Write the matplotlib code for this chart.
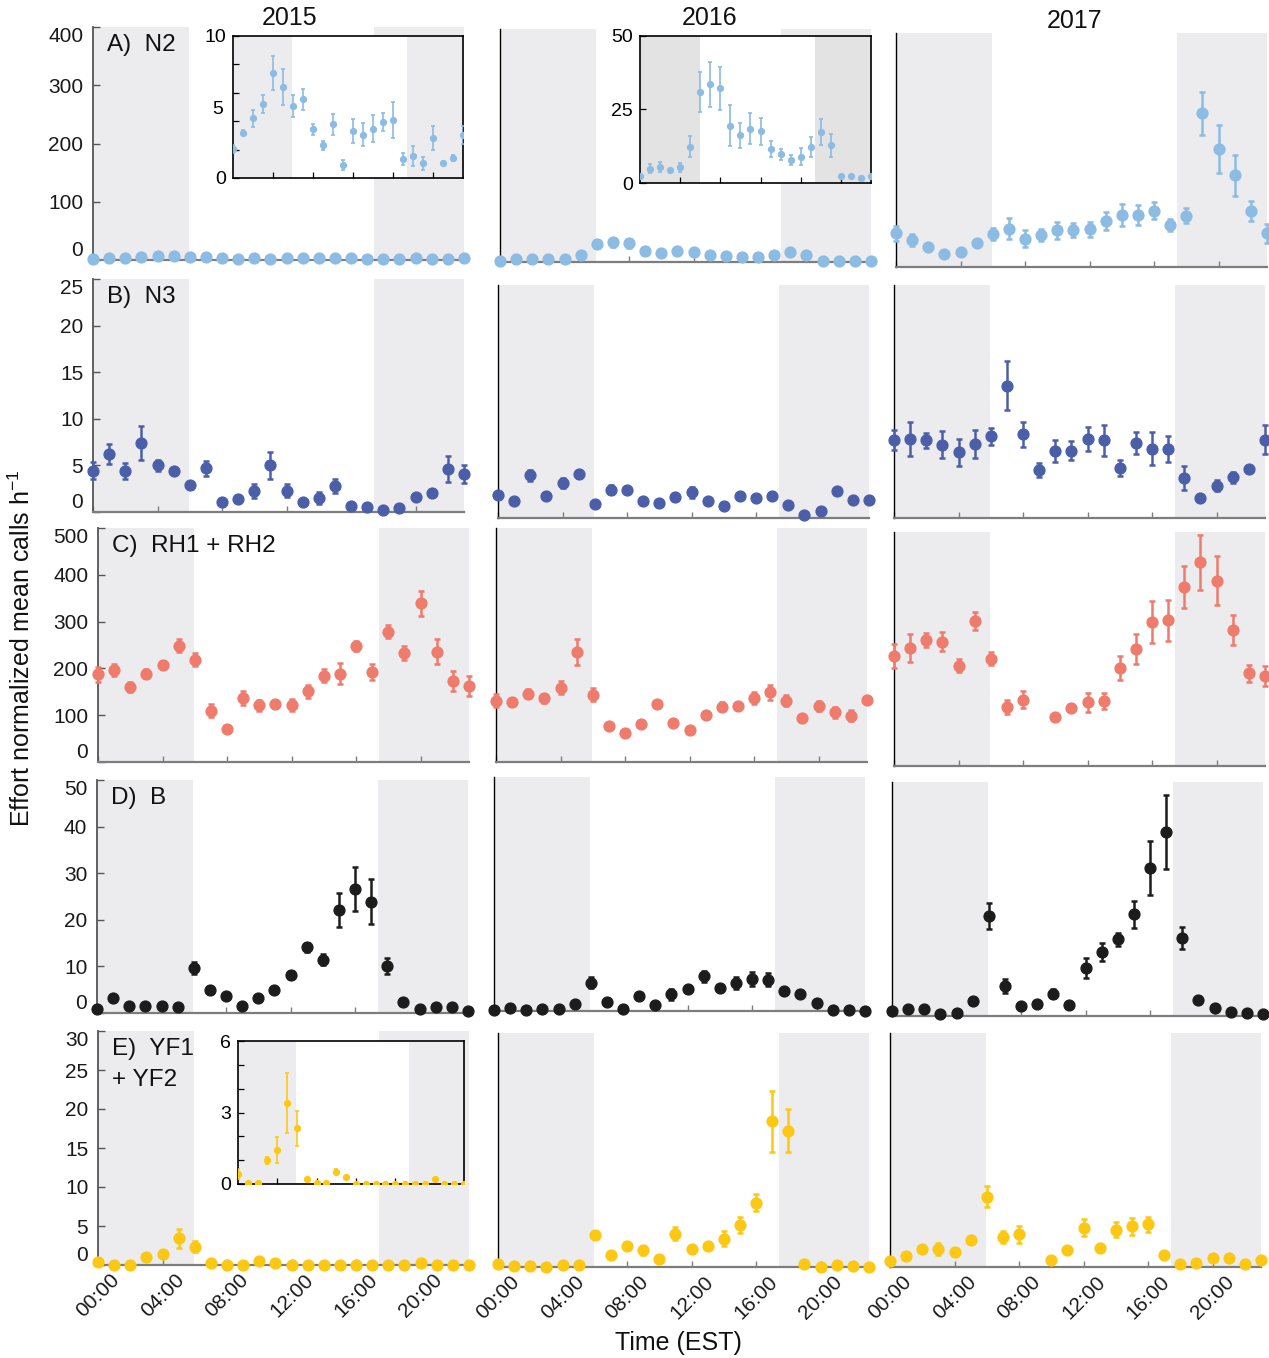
import numpy as np
import matplotlib
matplotlib.use('Agg')
import matplotlib.pyplot as plt

plt.rcParams['font.family'] = ['Liberation Sans', 'DejaVu Sans']
plt.rcParams['mathtext.fontset'] = 'custom'
plt.rcParams['mathtext.rm'] = 'Liberation Sans'
plt.rcParams['mathtext.it'] = 'Liberation Sans:italic'
plt.rcParams['mathtext.bf'] = 'Liberation Sans:bold'

# ---------------- data ----------------
hours = np.arange(24)
years = ['2015', '2016', '2017']
tick_hours = [0, 4, 8, 12, 16, 20]
tick_labels = ['00:00', '04:00', '08:00', '12:00', '16:00', '20:00']
night_morning = (0, 5.95)
night_evening = (17.4, 23)
nan = np.nan

n2_2015 = [2.03, 3.2, 4.2, 5.2, 7.4, 6.43, 5.07, 5.54, 3.43, 2.29, 3.79, 0.89, 3.32, 3.06, 3.48, 3.95, 4.09, 1.36, 1.54, 1.03, 2.83, 1.03, 1.43, 3.04]
n2_2015_err = [0.3, 0.15, 0.58, 0.64, 1.17, 1.28, 0.78, 0.75, 0.39, 0.35, 0.74, 0.36, 0.82, 0.78, 0.93, 0.64, 1.25, 0.41, 0.7, 0.47, 0.84, 0.1, 0.2, 0.64]
n2_2016 = [2.5, 4.9, 5.5, 4.3, 5.3, 12.4, 31.0, 33.6, 32.2, 19.5, 16.2, 18.4, 17.6, 11.5, 9.7, 7.9, 8.9, 12.2, 17.4, 12.8, 2.3, 2.4, 1.7, 2.3]
n2_2016_err = [0.5, 1.5, 1.6, 0.5, 1.5, 3.6, 6.9, 7.7, 7.4, 7.0, 4.2, 5.3, 4.6, 2.7, 1.8, 1.7, 2.9, 3.4, 4.4, 3.9, 0.3, 0.3, 0.3, 0.3]
n2_2017 = [57.6, 46.1, 34.2, 21.7, 26.2, 40.5, 56.4, 65.5, 48.4, 55.2, 62.7, 62.7, 64.4, 78.6, 88.9, 88.4, 96.2, 71.8, 87.7, 262.7, 201.7, 156.7, 95.7, 57.6]
n2_2017_err = [12.5, 11, 4, 3, 3, 5, 11, 18, 14, 10, 14, 12, 13, 16, 18, 17, 15, 10, 13, 37, 41, 35, 17, 16]

n3_2015 = [4.43, 6.2, 4.43, 7.4, 5.0, 4.43, 2.86, 4.68, 1.04, 1.43, 2.29, 5.0, 2.29, 1.04, 1.5, 2.75, 0.6, 0.5, 0.25, 0.43, 1.6, 2.04, 4.64, 4.07]
n3_2015_err = [0.9, 1.05, 0.85, 1.8, 0.6, 0.4, 0.2, 0.8, 0.1, 0.2, 0.75, 1.43, 0.68, 0.1, 0.64, 0.75, 0.1, 0.1, 0.1, 0.1, 0.2, 0.4, 1.4, 0.93]
n3_2016 = [2.5, 1.79, 4.57, 2.32, 3.75, 4.75, 1.5, 3.04, 2.96, 1.86, 1.61, 2.25, 2.75, 1.79, 1.32, 2.32, 2.11, 2.39, 1.43, 0.29, 0.79, 2.86, 1.89, 1.89]
n3_2016_err = [0.2, 0.1, 0.55, 0.2, 0.55, 0.45, 0.1, 0.5, 0.3, 0.2, 0.1, 0.45, 0.6, 0.2, 0.1, 0.2, 0.2, 0.2, 0.1, 0.1, 0.1, 0.4, 0.3, 0.2]
n3_2017 = [8.39, 8.5, 8.32, 7.86, 7.07, 7.96, 8.75, 14.2, 8.96, 5.18, 7.21, 7.21, 8.5, 8.32, 5.36, 8.07, 7.43, 7.43, 4.29, 2.14, 3.46, 4.36, 5.25, 8.39]
n3_2017_err = [1.07, 1.84, 0.8, 1.46, 1.45, 1.48, 0.96, 2.64, 1.29, 0.75, 1.16, 1.0, 1.29, 1.66, 0.9, 1.21, 1.79, 1.38, 1.25, 0.2, 0.6, 0.6, 0.3, 1.54]

rh_2015 = [187, 196, 160, 189, 207, 248, 219, 110, 71, 137, 121, 123, 121, 151, 184, 189, 248, 193, 278, 232, 339, 236, 173, 162]
rh_2015_err = [15, 13, 10, 9, 9, 14, 14, 14, 5, 15, 12, 7, 13, 14, 14, 22, 11, 17, 14, 15, 26, 26, 22, 21]
rh_2016 = [131, 128, 146, 136, 159, 235, 144, 76, 62, 81, 123, 84, 68, 101, 118, 119, 136, 149, 131, 94, 119, 106, 99, 132]
rh_2016_err = [14, 8, 9, 10, 14, 27, 14, 5, 5, 5, 6, 6, 5, 5, 10, 6, 13, 16, 12, 5, 11, 12, 12, 6]
rh_2017 = [235, 253, 269, 266, 214, 310, 229, 126, 142, nan, 104, 125, 136, 139, 210, 251, 308, 311, 382, 435, 396, 291, 198, 193]
rh_2017_err = [26, 30, 15, 21, 14, 20, 14, 14, 19, nan, 8, 8, 21, 18, 26, 32, 45, 43, 45, 58, 53, 32, 18, 21]

b_2015 = [0.93, 3.2, 1.57, 1.57, 1.43, 1.21, 9.64, 5.0, 3.57, 1.43, 3.21, 5.0, 8.21, 14.1, 11.4, 22.1, 26.6, 23.9, 10.1, 2.36, 0.86, 1.29, 1.29, 0.5]
b_2015_err = [0.2, 0.9, 0.3, 0.3, 0.3, 0.3, 1.2, 0.9, 0.5, 0.3, 0.5, 0.6, 0.9, 1.0, 1.2, 3.6, 4.75, 4.8, 1.7, 0.3, 0.2, 0.3, 0.3, 0.2]
b_2016 = [0.14, 0.57, 0.29, 0.5, 0.36, 1.57, 6.07, 1.93, 0.5, 3.1, 1.2, 3.6, 4.6, 7.4, 4.9, 5.9, 6.9, 6.7, 4.2, 3.7, 1.7, 0.14, 0.14, 0.0]
b_2016_err = [0.1, 0.1, 0.1, 0.1, 0.1, 0.3, 1.1, 0.3, 0.1, 0.4, 0.3, 1.2, 0.6, 1.1, 0.5, 1.3, 1.5, 1.4, 0.5, 0.5, 0.4, 0.1, 0.1, 0.1]
b_2017 = [1.07, 1.5, 1.5, 0.5, 0.64, 3.13, 21.3, 6.4, 2.07, 2.64, 4.77, 2.28, 10.3, 13.6, 16.4, 21.7, 31.6, 39.3, 16.7, 3.5, 1.7, 0.85, 0.64, 0.36]
b_2017_err = [0.2, 0.2, 0.2, 0.1, 0.1, 0.4, 2.8, 1.5, 0.3, 0.5, 0.9, 0.3, 2.1, 1.9, 1.4, 2.85, 5.7, 7.9, 2.4, 0.5, 0.3, 0.2, 0.1, 0.1]

yf_2015 = [0.42, 0.03, 0.03, 1.0, 1.43, 3.4, 2.34, 0.21, 0.03, 0.03, 0.52, 0.28, 0.0, 0.0, 0.0, 0.0, 0.0, 0.0, 0.0, 0.0, 0.22, 0.0, 0.0, 0.0]
yf_2015_err = [0.2, 0.0, 0.0, 0.14, 0.53, 1.25, 0.73, 0.05, 0.0, 0.0, 0.1, 0.05, 0.0, 0.0, 0.0, 0.0, 0.0, 0.0, 0.0, 0.0, 0.05, 0.0, 0.0, 0.0]
yf_2016 = [0.43, 0.13, 0.13, 0.0, 0.3, 0.3, 4.07, 1.59, 2.66, 2.14, 1.07, 4.29, 2.31, 2.66, 3.64, 5.36, 8.23, 18.7, 17.5, 0.43, 0.0, 0.3, 0.13, 0.0]
yf_2016_err = [0.1, 0.1, 0.1, 0.1, 0.1, 0.1, 0.4, 0.3, 0.3, 0.6, 0.2, 0.86, 0.3, 0.3, 0.94, 1.03, 1.09, 3.9, 2.76, 0.1, 0.1, 0.1, 0.1, 0.1]
yf_2017 = [0.77, 1.37, 2.27, 2.36, 1.89, 3.43, 9.0, 3.86, 4.2, nan, 0.94, 2.14, 5.06, 2.49, 4.8, 5.23, 5.49, 1.5, 0.34, 0.51, 1.2, 1.11, 0.34, 0.94]
yf_2017_err = [0.1, 0.2, 0.4, 0.77, 0.3, 0.4, 1.37, 0.75, 1.07, nan, 0.2, 0.4, 1.1, 0.3, 1.0, 1.07, 0.97, 0.3, 0.1, 0.1, 0.2, 0.2, 0.1, 0.1]

row_labels = ['A)  N2', 'B)  N3', 'C)  RH1 + RH2', 'D)  B', 'E)  YF1']
row_colors = ['#8cbbe3', '#4a5fa8', '#ee7b6c', '#1c1c1c', '#fcc814']
row_ylims = [400, 25, 500, 50, 30]
row_yticks = [[0, 100, 200, 300, 400], [0, 5, 10, 15, 20, 25], [0, 100, 200, 300, 400, 500],
              [0, 10, 20, 30, 40, 50], [0, 5, 10, 15, 20, 25, 30]]
row_values = [[n2_2015, n2_2016, n2_2017], [n3_2015, n3_2016, n3_2017], [rh_2015, rh_2016, rh_2017],
              [b_2015, b_2016, b_2017], [yf_2015, yf_2016, yf_2017]]
row_errors = [[n2_2015_err, n2_2016_err, n2_2017_err], [n3_2015_err, n3_2016_err, n3_2017_err],
              [rh_2015_err, rh_2016_err, rh_2017_err], [b_2015_err, b_2016_err, b_2017_err],
              [yf_2015_err, yf_2016_err, yf_2017_err]]

# ---------------- layout (pixels) ----------------
W, H = 1269, 1358
fig = plt.figure(figsize=(W / 100, H / 100), dpi=100)

tops = [[27, 29, 33], [279, 285, 285], [528, 528, 532], [780, 777, 782], [1031, 1033, 1033]]
bottoms = [[260, 262, 267], [512, 518, 518], [762, 762, 766], [1013, 1011, 1016], [1265, 1267, 1267]]
lefts = [[93, 500, 896], [93, 498, 894], [98, 496, 894], [97, 494, 892], [98, 498, 890]]
PW = 371
SHADE = '#ececee'
AXGRAY = '#7d7d7d'
TXT = '#111111'


def add_ax(left, top, width, height, z=1):
    return fig.add_axes([left / W, 1 - (top + height) / H, width / W, height / H], zorder=z)


def draw_points(ax, vals, errs, color, ms, elw, cap, clip):
    cont = ax.errorbar(hours, vals, yerr=errs, fmt='o', color=color, ms=ms, mec=color,
                       elinewidth=elw, capsize=cap, capthick=elw, zorder=3)
    for a in cont.get_children():
        a.set_clip_on(clip)
    return cont


for r in range(5):
    for c in range(3):
        top, bot, left = tops[r][c], bottoms[r][c], lefts[r][c]
        ax = add_ax(left, top, PW, bot - top)
        ax.set_facecolor('none')
        ax.set_xlim(0, 23)
        ax.set_ylim(0, row_ylims[r])
        ax.axvspan(*night_morning, color=SHADE, lw=0, zorder=0)
        ax.axvspan(*night_evening, color=SHADE, lw=0, zorder=0)
        draw_points(ax, row_values[r][c], row_errors[r][c], row_colors[r], 7.8, 1.8, 2.5, False)
        for s in ['top', 'right']:
            ax.spines[s].set_visible(False)
        ax.spines['bottom'].set_color(AXGRAY)
        ax.spines['bottom'].set_linewidth(1.6)
        if c == 0:
            ax.spines['left'].set_color('#555555')
            ax.spines['left'].set_linewidth(1.3)
            ax.set_yticks(row_yticks[r])
            ax.tick_params(axis='y', direction='in', length=5, width=1, color='#555555',
                           labelsize=15, labelcolor='#1a1a1a', pad=7)
            ylabs = ax.get_yticklabels()
            ylabs[0].set_verticalalignment('bottom')
            ylabs[-1].set_verticalalignment('top')
        else:
            ax.spines['left'].set_color('black')
            ax.spines['left'].set_linewidth(1.0)
            ax.set_yticks([])
        ax.set_xticks(tick_hours)
        ax.tick_params(axis='x', direction='in', length=4, width=1, color=AXGRAY)
        if r == 4:
            ax.set_xticklabels(tick_labels, rotation=45, ha='center', va='center',
                               rotation_mode='anchor', fontsize=15, color='#1a1a1a')
            ax.tick_params(axis='x', pad=22)
        else:
            ax.set_xticklabels([])
        if c == 0:
            ax.annotate(row_labels[r], xy=(0, 1), xycoords='axes fraction',
                        xytext=(14 * 0.72, -18 * 0.72), textcoords='offset points',
                        fontsize=17.5, va='center', ha='left', color=TXT)
            if r == 4:
                ax.annotate('+ YF2', xy=(0, 1), xycoords='axes fraction',
                            xytext=(14 * 0.72, -49 * 0.72), textcoords='offset points',
                            fontsize=17.5, va='center', ha='left', color=TXT)

# ---------------- insets ----------------
insets = [
    (233, 36, 230, 142, n2_2015, n2_2015_err, 10, [0, 2, 4, 6, 8, 10], {0: '0', 10: '10'}, 5, row_colors[0], SHADE),
    (640, 36, 231, 147, n2_2016, n2_2016_err, 50, [0, 25, 50], {0: '0', 25: '25', 50: '50'}, None, row_colors[0], '#e3e3e3'),
    (238, 1041, 226, 143, yf_2015, yf_2015_err, 6, [0, 1, 2, 3, 4, 5, 6], {0: '0', 3: '3', 6: '6'}, None, row_colors[4], SHADE),
]
for (l, t, w, h, vals, errs, ymax, yt, lab, extra, col, shade) in insets:
    ax = add_ax(l, t, w, h, z=5)
    ax.set_facecolor('white')
    ax.set_xlim(0, 23)
    ax.set_ylim(0, ymax)
    ax.axvspan(*night_morning, color=shade, lw=0, zorder=0)
    ax.axvspan(*night_evening, color=shade, lw=0, zorder=0)
    draw_points(ax, vals, errs, col, 4.2, 1.2, 1.5, True)
    for s in ax.spines.values():
        s.set_color('black')
        s.set_linewidth(1.2)
    ax.set_xticks([4, 8, 12, 16, 20])
    ax.set_xticklabels([])
    ax.set_yticks(yt)
    ax.set_yticklabels([lab.get(v, '') for v in yt])
    if extra is not None:
        ax.set_yticks([extra], minor=True)
        ax.set_yticklabels([str(extra)], minor=True)
        ax.tick_params(axis='y', which='minor', length=0, labelsize=14, pad=7)
    ax.tick_params(axis='both', which='major', direction='in', length=4, width=0.9, labelsize=14, pad=5)

# ---------------- titles & labels ----------------
title_pos = [(290, 18), (710, 18), (1075, 21)]
for yr, (x, y) in zip(years, title_pos):
    fig.text(x / W, 1 - y / H, yr, fontsize=18, ha='center', va='center', color=TXT)

fig.text(22 / W, 1 - 648 / H, r'Effort normalized mean calls h$^{-1}$', rotation=90,
         fontsize=18, ha='center', va='center', color=TXT)
fig.text(678 / W, 1 - 1343 / H, 'Time (EST)', fontsize=18, ha='center', va='center', color=TXT)

fig.savefig('out.png', dpi=100)
